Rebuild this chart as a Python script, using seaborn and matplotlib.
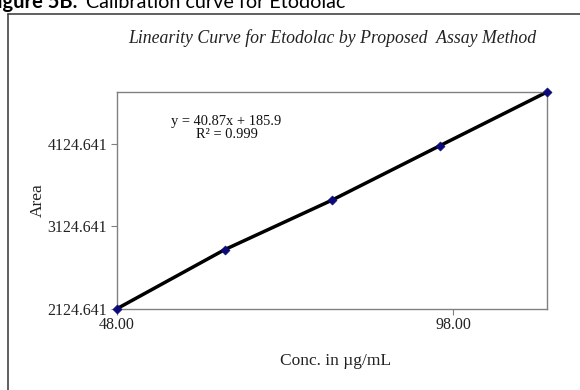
import matplotlib
matplotlib.use("Agg")
import matplotlib.pyplot as plt
from matplotlib.lines import Line2D
import seaborn as sns
import pandas as pd

# Calibration data for Etodolac
conc = [48, 64, 80, 96, 112]
area = [2124.641, 2840.0, 3442.0, 4100.0, 4754.0]
x_ticks = [48.0, 98.0]
y_ticks = [2124.641, 3124.641, 4124.641]
equation = "y = 40.87x + 185.9"
r_squared = "R\u00b2 = 0.999"

df = pd.DataFrame({"conc": conc, "area": area})

sns.set_theme(style="white")
plt.rcParams["font.family"] = ["Liberation Serif", "DejaVu Serif"]

W, H = 580, 390
fig = plt.figure(figsize=(W / 100, H / 100), dpi=100)
ax = fig.add_axes([117 / W, 1 - 308.7 / H, (547 - 117) / W, (308.7 - 92) / H])

sns.lineplot(data=df, x="conc", y="area", ax=ax, color="black", lw=2.5,
             zorder=2)
sns.scatterplot(data=df, x="conc", y="area", ax=ax, marker="D", s=22,
                color="#0a0a78", edgecolor="#0a0a78", zorder=3, clip_on=False)

ax.set_xlim(conc[0], conc[-1])
ax.set_ylim(area[0], area[-1])
ax.set_xticks(x_ticks)
ax.set_xticklabels([f"{v:.2f}" for v in x_ticks])
ax.set_yticks(y_ticks)
ax.set_yticklabels([f"{v:.3f}" for v in y_ticks])
ax.tick_params(axis="both", labelsize=11.5, colors="#222222", length=4,
               width=0.8, direction="out", left=True, bottom=True, pad=3)
ax.tick_params(axis="x", color="#808080", pad=2)
ax.tick_params(axis="y", color="#808080")
for s in ax.spines.values():
    s.set_color("#808080")
    s.set_linewidth(1.0)

ax.set_xlabel("Conc. in \u00b5g/mL", fontsize=12.5, color="#222222")
ax.xaxis.set_label_coords((336 - 117) / 430, -(353 - 308.7) / 216.7)
ax.set_ylabel("Area", fontsize=12.5, color="#222222")
ax.yaxis.set_label_coords(-(117 - 46) / 430, (308.7 - 200) / 216.7)

fig.text(226 / W, 1 - 122 / H, equation, ha="center", va="center",
         fontsize=10.4, color="#111111")
fig.text(227 / W, 1 - 134.5 / H, r_squared, ha="center", va="center",
         fontsize=10.4, color="#111111")

fig.text(332 / W, 1 - 38 / H,
         "Linearity Curve for Etodolac by Proposed  Assay Method",
         ha="center", va="center", fontsize=12.8, style="italic",
         color="#222222")

# Figure caption, running off the top-left edge
fig.text(-14 / W, 1 - 7.5 / H, "Figure 5B.", ha="left", va="baseline",
         fontsize=14.5, fontweight="bold", family=["Lato", "DejaVu Sans"],
         color="black")
fig.text(86 / W, 1 - 7.5 / H, "Calibration curve for Etodolac", ha="left",
         va="baseline", fontsize=14.2, family=["Lato", "DejaVu Sans"],
         color="black")

# Outer frame around the chart
fig.add_artist(Line2D([7.7 / W, 7.7 / W], [0, 1 - 13.5 / H],
                      transform=fig.transFigure, color="#444444", lw=1.2))
fig.add_artist(Line2D([7.7 / W, 1], [1 - 13.5 / H, 1 - 13.5 / H],
                      transform=fig.transFigure, color="#444444", lw=1.2))

fig.savefig("out.png", dpi=100)
